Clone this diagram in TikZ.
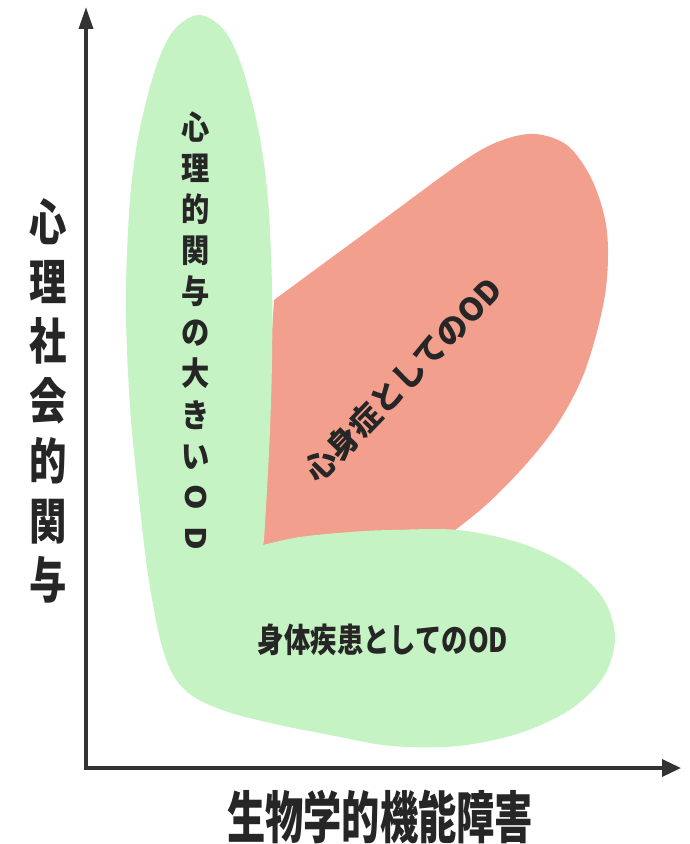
\documentclass[tikz,border=0pt]{standalone}
\usepackage{fontspec}
\newfontfamily\jp{Noto Sans CJK JP}
\usetikzlibrary{arrows.meta}
\definecolor{greenfill}{HTML}{C6F3C3}
\definecolor{redfill}{HTML}{F29F8D}
\definecolor{axiscol}{HTML}{333333}
\definecolor{txtcol}{HTML}{262626}
\tikzset{
  axisline/.style={draw=axiscol, line width=0.7mm},
  lbl/.style={text=txtcol, inner sep=0pt, align=center},
}
\begin{document}
\begin{tikzpicture}[x=0.02cm, y=-0.02cm]
\fill[white] (0,0) rectangle (689,844);
\path[use as bounding box] (0,0) rectangle (689,844);

% red region
\fill[redfill] (262,548) .. controls (266,450) and (270,360) .. (274,300)
  -- plot[smooth, tension=0.55] coordinates {(274,300) (380,222) (462,162) (500,141) (535,134) (568,146) (593,182) (607,232) (605,295) (586,368) (560,420) (528,462) (486,505) (442,540)}
  -- (350,550) -- cycle;

% green region
\fill[greenfill] plot[smooth, tension=0.55] coordinates {
  (263,545) (300,537) (350,532) (392,530) (458,530) (520,543) (571,567)
  (604,600) (615,638) (604,676) (571,709) (520,733) (458,746) (392,746)
  (330,735) (275,724) (228,712) (194,697) (175,678) (163,650) (154,610)
  (146,560) (138,490) (131,420) (127,350) (126,286) (130,200) (139,133)
  (156,67) (174,30) (199,15) (224,30) (242,67) (259,133) (268,200)
  (272,286) (272,360) (270,430) (267,490) (264,540)} -- cycle;

% axes
\coordinate (O) at (86,768);
\coordinate (ytip) at (86,7);
\coordinate (xtip) at (681,768);
\draw[axisline, -{Triangle[length=4.4mm, width=2.8mm]}] (O) -- (ytip);
\draw[axisline, -{Triangle[length=3.8mm, width=3.4mm]}] ([xshift=-0.35mm]O) -- (xtip);

% labels
\node[lbl, font=\jp\bfseries\fontsize{28}{34}\selectfont, xscale=0.76] (ylab) at (48,401)
  {心\\理\\社\\会\\的\\関\\与};
\node[lbl, font=\jp\bfseries\fontsize{32}{38}\selectfont, xscale=0.68] (xlab) at (380,817)
  {生物学的機能障害};
\node[lbl, font=\jp\bfseries\fontsize{18.5}{23.4}\selectfont, xscale=0.87] (psy) at (196,331)
  {心\\理\\的\\関\\与\\の\\大\\き\\い\\\rotatebox[origin=c]{-90}{O}\\\rotatebox[origin=c]{-90}{D}};
\node[lbl, font=\jp\bfseries\fontsize{18}{22}\selectfont, rotate=46] (psm) at (403,380)
  {心身症としてのOD};
\node[lbl, font=\jp\bfseries\fontsize{19}{22}\selectfont, xscale=0.79] (phy) at (383,640)
  {身体疾患としてのOD};
\end{tikzpicture}
\end{document}
